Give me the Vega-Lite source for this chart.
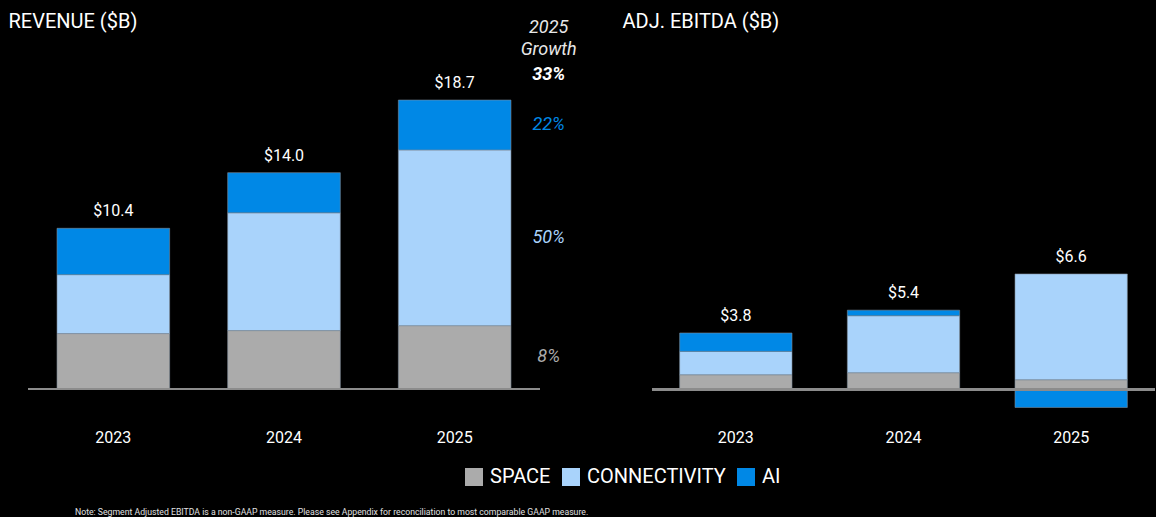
{
  "$schema": "https://vega.github.io/schema/vega-lite/v6.json",
  "background": "black",
  "autosize": {"type": "pad"},
  "padding": {"left": 8, "top": 11, "right": 0, "bottom": 0},
  "spacing": 112,
  "bounds": "flush",
  "title": {"text": "Note: Segment Adjusted EBITDA is a non-GAAP measure. Please see Appendix for reconciliation to most comparable GAAP measure.", "orient": "bottom", "anchor": "start", "frame": "bounds", "fontSize": 8.7, "fontWeight": "normal", "color": "#e0e0e0", "dx": 67, "offset": 21},
  "datasets": {
    "rev": [
      {"year": "2023", "segment": "SPACE", "ord": 1, "value": 3.59},
      {"year": "2023", "segment": "CONNECTIVITY", "ord": 2, "value": 3.81},
      {"year": "2023", "segment": "AI", "ord": 3, "value": 3.0},
      {"year": "2024", "segment": "SPACE", "ord": 1, "value": 3.78},
      {"year": "2024", "segment": "CONNECTIVITY", "ord": 2, "value": 7.62},
      {"year": "2024", "segment": "AI", "ord": 3, "value": 2.6},
      {"year": "2025", "segment": "SPACE", "ord": 1, "value": 4.1, "growth": "8%"},
      {"year": "2025", "segment": "CONNECTIVITY", "ord": 2, "value": 11.37, "growth": "50%"},
      {"year": "2025", "segment": "AI", "ord": 3, "value": 3.23, "growth": "22%"}
    ],
    "ebitda": [
      {"year": "2023", "segment": "SPACE", "ord": 1, "value": 1.0},
      {"year": "2023", "segment": "CONNECTIVITY", "ord": 2, "value": 1.59},
      {"year": "2023", "segment": "AI", "ord": 3, "value": 1.25},
      {"year": "2024", "segment": "SPACE", "ord": 1, "value": 1.14},
      {"year": "2024", "segment": "CONNECTIVITY", "ord": 2, "value": 3.87},
      {"year": "2024", "segment": "AI", "ord": 3, "value": 0.38},
      {"year": "2025", "segment": "SPACE", "ord": 1, "value": 0.66},
      {"year": "2025", "segment": "CONNECTIVITY", "ord": 2, "value": 7.19},
      {"year": "2025", "segment": "AI", "ord": 3, "value": -1.22}
    ]
  },
  "config": {
    "font": "Roboto",
    "view": {"stroke": null},
    "axis": {"grid": false},
    "axisX": {"labelColor": "white", "labelFontSize": 16, "labelPadding": 8, "domain": false, "ticks": false, "labelAngle": 0, "title": null},
    "axisY": {"labels": false, "ticks": false, "domain": false, "titleAngle": 0, "titleAlign": "left", "titleBaseline": "alphabetic", "titleX": -20, "titleY": -10, "titleFontSize": 20, "titleColor": "white", "titleFontWeight": "normal"},
    "legend": {"orient": "none", "legendX": 436, "legendY": 430, "direction": "horizontal", "symbolType": "square", "symbolSize": 324, "symbolStrokeWidth": 0, "symbolOpacity": 1, "labelFontSize": 20, "labelColor": "white", "labelOffset": 6, "columnPadding": 10, "labelLimit": 300},
    "title": {"color": "white", "fontSize": 20, "fontWeight": "normal", "anchor": "start"}
  },
  "resolve": {"scale": {"x": "independent", "y": "independent", "color": "shared"}, "legend": {"color": "shared"}},
  "hconcat": [
    {
      "width": 512,
      "height": 384,
      "data": {"name": "rev"},
      "layer": [
        {
          "mark": {"type": "bar", "stroke": "#7d8b99", "strokeWidth": 0.6},
          "encoding": {
            "x": {"field": "year", "type": "nominal", "scale": {"paddingInner": 0.34, "paddingOuter": 0.17}},
            "y": {"field": "value", "type": "quantitative", "stack": "zero", "scale": {"domain": [-2.07, 22.78], "nice": false, "zero": false}, "title": "REVENUE ($B)"},
            "color": {"field": "segment", "type": "nominal", "scale": {"domain": ["SPACE", "CONNECTIVITY", "AI"], "range": ["#ABABAB", "#A9D3FB", "#0088E6"]}, "legend": {"title": null}},
            "order": {"field": "ord", "type": "quantitative"}
          }
        },
        {"mark": {"type": "rule", "color": "#8c8c8c", "strokeWidth": 2}, "encoding": {"y": {"datum": 0, "type": "quantitative", "title": "REVENUE ($B)"}}},
        {
          "transform": [
            {"filter": "datum.year == '2025'"},
            {"stack": "value", "groupby": ["year"], "sort": [{"field": "ord", "order": "ascending"}], "as": ["v0", "v1"]},
            {"calculate": "(datum.v0 + datum.v1) / 2", "as": "mid"}
          ],
          "mark": {"type": "text", "fontStyle": "italic", "fontSize": 18, "dx": 94},
          "encoding": {
            "x": {"field": "year", "type": "nominal"},
            "y": {"field": "mid", "type": "quantitative", "title": "REVENUE ($B)"},
            "text": {"field": "growth"},
            "fill": {"field": "segment", "type": "nominal", "scale": {"domain": ["SPACE", "CONNECTIVITY", "AI"], "range": ["#ABABAB", "#A9D3FB", "#0088E6"]}, "legend": null}
          }
        },
        {
          "transform": [
            {"calculate": "max(datum.value, 0)", "as": "pos"},
            {"aggregate": [{"op": "sum", "field": "pos", "as": "top"}, {"op": "sum", "field": "value", "as": "total"}], "groupby": ["year"]}
          ],
          "encoding": {"x": {"field": "year", "type": "nominal"}, "y": {"field": "top", "type": "quantitative", "title": "REVENUE ($B)"}},
          "layer": [
            {"mark": {"type": "text", "color": "white", "fontSize": 16, "dy": -17}, "encoding": {"text": {"field": "total", "format": "$.1f"}}},
            {"transform": [{"filter": "datum.year == '2025'"}], "mark": {"type": "text", "color": "#e8e8e8", "fontStyle": "italic", "fontSize": 18, "dx": 94, "dy": -72}, "encoding": {"text": {"value": "2025"}}},
            {"transform": [{"filter": "datum.year == '2025'"}], "mark": {"type": "text", "color": "#e8e8e8", "fontStyle": "italic", "fontSize": 18, "dx": 94, "dy": -50}, "encoding": {"text": {"value": "Growth"}}},
            {"transform": [{"filter": "datum.year == '2025'"}], "mark": {"type": "text", "color": "white", "fontStyle": "italic", "fontWeight": "bold", "fontSize": 18, "dx": 94, "dy": -25}, "encoding": {"text": {"value": "33%"}}}
          ]
        }
      ]
    },
    {
      "width": 503,
      "height": 384,
      "data": {"name": "ebitda"},
      "layer": [
        {
          "mark": {"type": "bar", "stroke": "#7d8b99", "strokeWidth": 0.6},
          "encoding": {
            "x": {"field": "year", "type": "nominal", "scale": {"paddingInner": 0.33, "paddingOuter": 0.165}},
            "y": {"field": "value", "type": "quantitative", "stack": "zero", "scale": {"domain": [-2.14, 23.95], "nice": false, "zero": false}, "title": "ADJ. EBITDA ($B)", "axis": {"titleX": -30}},
            "color": {"field": "segment", "type": "nominal", "scale": {"domain": ["SPACE", "CONNECTIVITY", "AI"], "range": ["#ABABAB", "#A9D3FB", "#0088E6"]}, "legend": {"title": null}},
            "order": {"field": "ord", "type": "quantitative"}
          }
        },
        {"mark": {"type": "rule", "color": "#8c8c8c", "strokeWidth": 2}, "encoding": {"y": {"datum": 0, "type": "quantitative", "title": "ADJ. EBITDA ($B)"}}},
        {
          "transform": [
            {"calculate": "max(datum.value, 0)", "as": "pos"},
            {"aggregate": [{"op": "sum", "field": "pos", "as": "top"}, {"op": "sum", "field": "value", "as": "total"}], "groupby": ["year"]}
          ],
          "mark": {"type": "text", "color": "white", "fontSize": 16, "dy": -17},
          "encoding": {"x": {"field": "year", "type": "nominal"}, "y": {"field": "top", "type": "quantitative", "title": "ADJ. EBITDA ($B)"}, "text": {"field": "total", "format": "$.1f"}}
        }
      ]
    }
  ]
}
